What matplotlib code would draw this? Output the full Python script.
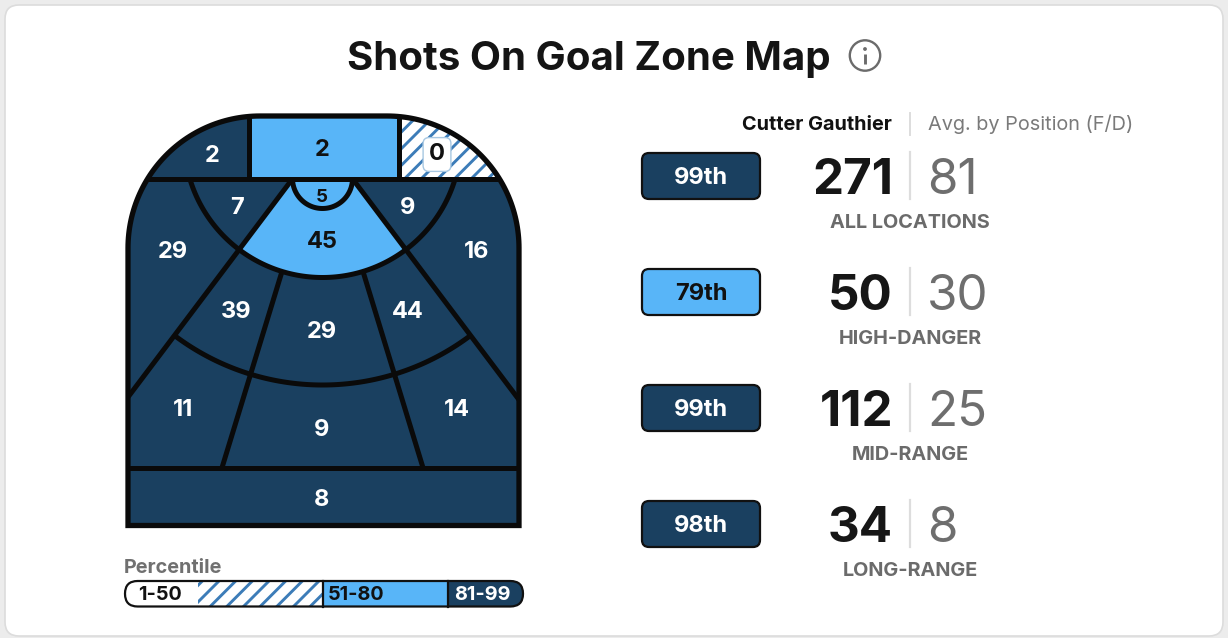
import numpy as np
import matplotlib
matplotlib.use("Agg")
import matplotlib.pyplot as plt
from matplotlib.patches import Polygon, PathPatch, FancyBboxPatch, Circle, Rectangle
from matplotlib.path import Path

# ---------------- data ----------------
zone_names = ["slot", "left_circle", "right_circle", "left_outside", "right_outside",
              "left_mid", "center_mid", "right_mid", "left_low", "center_low", "right_low",
              "point", "corner_left", "behind_net", "corner_right", "crease"]
zone_values = [45, 7, 9, 29, 16, 39, 29, 44, 11, 9, 14, 8, 2, 2, 0, 5]
zone_tiers = ["mid", "high", "high", "high", "high", "high", "high", "high", "high",
              "high", "high", "high", "high", "mid", "low", "mid"]

summary_labels = ["ALL LOCATIONS", "HIGH-DANGER", "MID-RANGE", "LONG-RANGE"]
summary_pct = [99, 79, 99, 98]
player_values = [271, 50, 112, 34]
avg_values = [81, 30, 25, 8]
player_name = "Cutter Gauthier"
avg_label = "Avg. by Position (F/D)"
title = "Shots On Goal Zone Map"
legend_labels = ["1-50", "51-80", "81-99"]

# ---------------- style ----------------
DARK = "#1a4060"
LIGHT = "#58b5f8"
HATCH = "#3c7cb8"
GRAY = "#6b6b6b"
FONT = ["Inter", "DejaVu Sans"]
plt.rcParams["font.family"] = FONT
plt.rcParams["hatch.linewidth"] = 2.1
plt.rcParams["hatch.color"] = HATCH

def tier_style(t):
    if t == "high":
        return dict(fc=DARK, text="white")
    if t == "mid":
        return dict(fc=LIGHT, text="#111111")
    return dict(fc="white", text="#111111", hatch="//")

def pct_tier(p):
    return "high" if p > 80 else ("mid" if p > 50 else "low")

fig = plt.figure(figsize=(12.28, 6.38), dpi=100)
fig.patch.set_facecolor("#ececec")
ax = fig.add_axes([0, 0, 1, 1])
ax.set_xlim(0, 1228)
ax.set_ylim(638, 0)
ax.axis("off")

ax.add_patch(FancyBboxPatch((5, 5), 1218, 631, boxstyle="round,pad=0,rounding_size=14",
                            fc="white", ec="#dcdcdc", lw=1.2, zorder=0))

# ---------------- rink geometry (layout) ----------------
x0, x1, y0, y1, R = 128, 519, 116, 525.5, 132
cx, cy = 322.5, 139
yg, yb = 178.5, 467.5
xl, xr = 248.5, 398.5
rc = 30
r1, r2 = 138.5, 246
a_out, a_in = 37.0, 17.0
BIG = 900

def P(r, phi):
    p = np.radians(phi)
    return [cx + r * np.sin(p), cy + r * np.cos(p)]

def arc(r, a0, a1, n=120):
    p = np.radians(np.linspace(a0, a1, n))
    return np.column_stack([cx + r * np.sin(p), cy + r * np.cos(p)])

t = np.radians(np.linspace(0, 90, 60))
rink_pts = np.vstack([
    [[x0, y1], [x0, y0 + R]],
    np.column_stack([x0 + R - R * np.cos(t), y0 + R - R * np.sin(t)]),
    np.column_stack([x1 - R + R * np.sin(t), y0 + R - R * np.cos(t)]),
    [[x1, y1]],
])
rink_path = Path(np.vstack([rink_pts, rink_pts[:1]]), closed=True)
rink = PathPatch(rink_path, fc="none", ec="#0a0a0a", lw=3.8, zorder=6)
ax.add_patch(rink)

def rect(a, b, c, d):
    return np.array([[a, b], [c, b], [c, d], [a, d]])

tc = np.linspace(0, np.pi, 80)
shapes = {
    "slot": (np.vstack([[cx, cy], arc(r1, -a_out, a_out)]), 2),
    "left_circle": (np.vstack([[cx, cy], arc(r1, -90, -a_out)]), 2),
    "right_circle": (np.vstack([[cx, cy], arc(r1, a_out, 90)]), 2),
    "left_outside": (np.vstack([arc(r1, -a_out, -180), [P(BIG, -180), P(BIG, -a_out)]]), 2),
    "right_outside": (np.vstack([arc(r1, a_out, 180), [P(BIG, 180), P(BIG, a_out)]]), 2),
    "left_mid": (np.vstack([arc(r1, -a_out, -a_in), arc(r2, -a_in, -a_out)]), 2),
    "center_mid": (np.vstack([arc(r1, -a_in, a_in), arc(r2, a_in, -a_in)]), 2),
    "right_mid": (np.vstack([arc(r1, a_in, a_out), arc(r2, a_out, a_in)]), 2),
    "left_low": (np.vstack([arc(r2, -a_out, -a_in), [P(BIG, -a_in), P(BIG, -a_out)]]), 2),
    "center_low": (np.vstack([arc(r2, -a_in, a_in), [P(BIG, a_in), P(BIG, -a_in)]]), 2),
    "right_low": (np.vstack([arc(r2, a_in, a_out), [P(BIG, a_out), P(BIG, a_in)]]), 2),
    "point": (rect(0, yb, 1228, 700), 3),
    "corner_left": (rect(0, 0, xl, yg), 3),
    "behind_net": (rect(xl, 0, xr, yg), 3),
    "corner_right": (rect(xr, 0, 1228, yg), 3),
    "crease": (np.column_stack([cx + rc * np.cos(tc), yg + rc * np.sin(tc)]), 4),
}

label_pos = {
    "slot": (322, 239), "left_circle": (237, 205), "right_circle": (408, 205),
    "left_outside": (173, 250), "right_outside": (477, 250),
    "left_mid": (236, 310), "center_mid": (322, 330), "right_mid": (408, 310),
    "left_low": (183, 408), "center_low": (322, 428), "right_low": (457, 408),
    "point": (322, 497), "corner_left": (212, 153), "behind_net": (322, 147),
    "corner_right": (437, 152), "crease": (322, 195),
}

for name, val, tier in zip(zone_names, zone_values, zone_tiers):
    pts, z = shapes[name]
    st = tier_style(tier)
    if "hatch" in st:
        poly = Polygon(pts, closed=True, fc=st["fc"], ec=HATCH, lw=0, hatch=st["hatch"], zorder=z)
    else:
        poly = Polygon(pts, closed=True, fc=st["fc"], ec="none", lw=0, zorder=z)
    ax.add_patch(poly)
    poly.set_clip_path(rink)
    lx, ly = label_pos[name]
    fs = 13.5 if name == "crease" else 17
    kw = {}
    if tier == "low":
        kw["bbox"] = dict(boxstyle="round,pad=0.25,rounding_size=0.25", fc="white",
                          ec="#a8c8e2", lw=1.0)
    ax.text(lx, ly, str(val), ha="center", va="center_baseline", fontsize=fs,
            fontweight="bold", color=st["text"], zorder=8, **kw)

# boundary lines
LW = 3.6
lines = [
    [[0, yg], [1228, yg]],
    [[xl, 0], [xl, yg]],
    [[xr, 0], [xr, yg]],
    [P((yg - cy) / np.cos(np.radians(a_out)), -a_out), P(BIG, -a_out)],
    [P((yg - cy) / np.cos(np.radians(a_out)), a_out), P(BIG, a_out)],
    [P(r1, -a_in), P((yb - cy) / np.cos(np.radians(a_in)), -a_in)],
    [P(r1, a_in), P((yb - cy) / np.cos(np.radians(a_in)), a_in)],
    [[0, yb], [1228, yb]],
]
for seg in lines:
    seg = np.array(seg)
    ln, = ax.plot(seg[:, 0], seg[:, 1], color="#0a0a0a", lw=LW, zorder=5, solid_capstyle="butt")
    ln.set_clip_path(rink)
a_lim = np.degrees(np.arccos((yg - cy) / r1))
for pts in [arc(r1, -a_lim, a_lim), arc(r2, -a_out, a_out),
            np.column_stack([cx + rc * np.cos(tc), yg + rc * np.sin(tc)])]:
    ln, = ax.plot(pts[:, 0], pts[:, 1], color="#0a0a0a", lw=LW, zorder=5, solid_capstyle="butt")
    ln.set_clip_path(rink)

# ---------------- title ----------------
ax.text(589, 70, title, ha="center", va="baseline", fontsize=29, fontweight="bold", color="#141414")
ax.add_patch(Circle((865, 55.5), 15.2, fill=False, ec="#6b6b6b", lw=1.7))
ax.add_patch(Circle((865, 49), 1.9, fc="#6b6b6b", ec="none"))
ax.plot([865, 865], [53.5, 63.5], color="#6b6b6b", lw=2.1, solid_capstyle="butt")

# ---------------- right panel ----------------
ax.text(892, 130, player_name, ha="right", va="baseline", fontsize=14.3, fontweight="bold", color="#111111")
ax.plot([910, 910], [113, 135], color="#dddddd", lw=1.4)
ax.text(928, 130, avg_label, ha="left", va="baseline", fontsize=14.3, color="#7a7a7a")

row_y = [176, 292, 408, 524]
for i, (lab, pct, pv, av) in enumerate(zip(summary_labels, summary_pct, player_values, avg_values)):
    y = row_y[i]
    st = tier_style(pct_tier(pct))
    ax.add_patch(FancyBboxPatch((642, y - 23), 118, 46, boxstyle="round,pad=0,rounding_size=7",
                                fc=st["fc"], ec="#111111", lw=1.6, zorder=3))
    ax.text(701, y + 7.5, f"{pct}th", ha="center", va="baseline", fontsize=17, fontweight="bold",
            color=st["text"], zorder=4)
    ax.text(893, y + 18, str(pv), ha="right", va="baseline", fontsize=35.5, fontweight="bold",
            color="#161616")
    ax.plot([910, 910], [y - 24, y + 23], color="#dddddd", lw=1.6)
    ax.text(927, y + 18, str(av), ha="left", va="baseline", fontsize=35.5, color="#6e6e6e")
    ax.text(910, y + 52, lab, ha="center", va="baseline", fontsize=14.3, fontweight="bold", color=GRAY)

# ---------------- legend ----------------
ax.text(124, 573, "Percentile", ha="left", va="baseline", fontsize=14.3, fontweight="bold", color="#707070")
lx0, lx1, ly0, ly1 = 125, 523, 581, 606.5
pill = FancyBboxPatch((lx0, ly0), lx1 - lx0, ly1 - ly0, boxstyle="round,pad=0,rounding_size=12.7",
                      fc="none", ec="#111111", lw=1.6, zorder=6)
ax.add_patch(pill)
segs = [(lx0, 198, "white", None), (198, 323, "white", "//"), (323, 448, LIGHT, None), (448, lx1, DARK, None)]
for a, b, fc, h in segs:
    if h:
        r = Rectangle((a, ly0), b - a, ly1 - ly0, fc=fc, ec=HATCH, lw=0, hatch=h, zorder=4)
    else:
        r = Rectangle((a, ly0), b - a, ly1 - ly0, fc=fc, ec="none", lw=0, zorder=4)
    ax.add_patch(r)
    r.set_clip_path(pill)
for xv in (323, 448):
    ax.plot([xv, xv], [ly0, ly1], color="#111111", lw=1.6, zorder=5)
leg_x = [138, 328, 454]
leg_col = ["#111111", "#111111", "white"]
for txt, x, c in zip(legend_labels, leg_x, leg_col):
    ax.text(x, 600, txt, ha="left", va="baseline", fontsize=14.3, fontweight="bold", color=c, zorder=7)

fig.savefig("out.png", dpi=100, facecolor=fig.get_facecolor())
